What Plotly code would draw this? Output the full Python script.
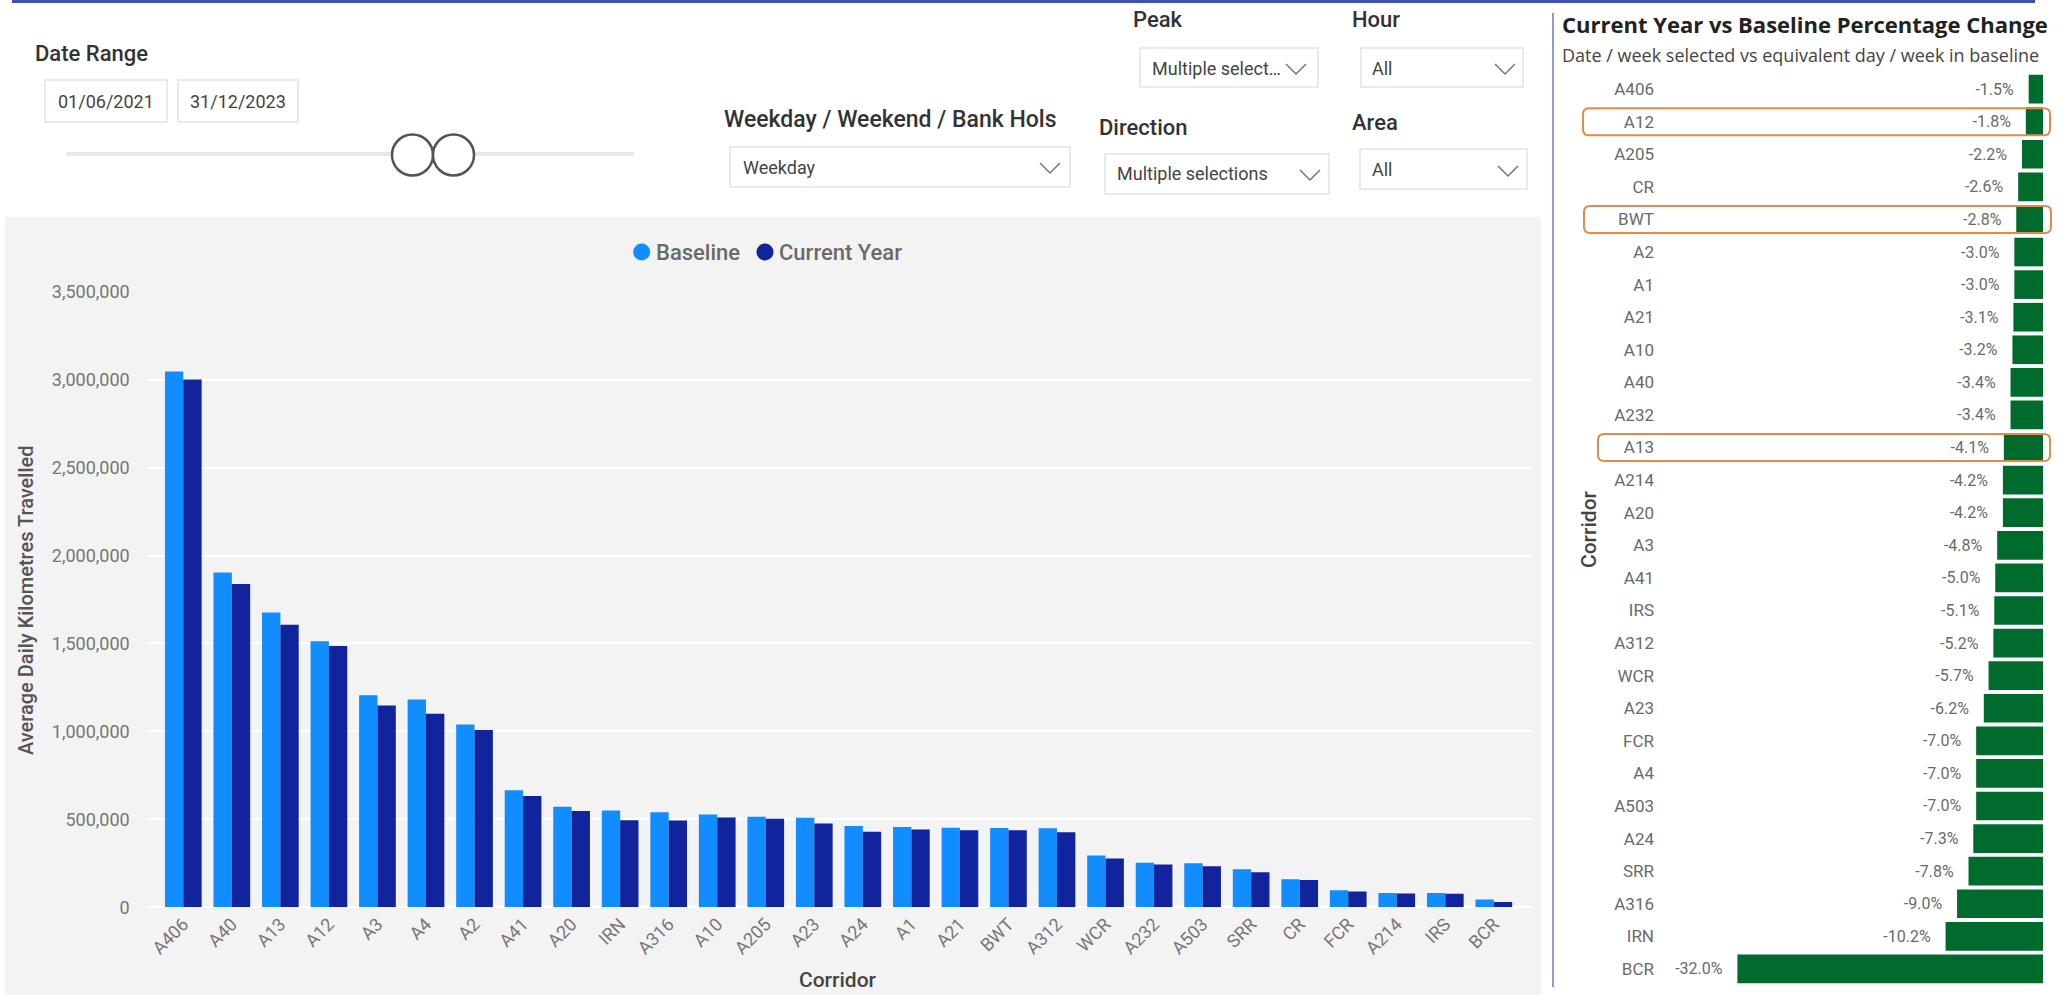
import plotly.graph_objects as go

# ---- data ----------------------------------------------------------------
corridors = ["A406", "A40", "A13", "A12", "A3", "A4", "A2", "A41", "A20", "IRN",
             "A316", "A10", "A205", "A23", "A24", "A1", "A21", "BWT", "A312", "WCR",
             "A232", "A503", "SRR", "CR", "FCR", "A214", "IRS", "BCR"]
baseline_km = [3047000, 1903000, 1676000, 1513000, 1206000, 1182000, 1040000, 666000,
               572000, 551000, 541000, 528000, 515000, 509000, 462000, 456000, 452000,
               451000, 449000, 295000, 253000, 250000, 216000, 159000, 97000, 81000,
               81000, 44000]
current_km = [3001000, 1838000, 1607000, 1486000, 1148000, 1100000, 1008000, 633000,
              548000, 495000, 493000, 511000, 504000, 477000, 429000, 442000, 438000,
              438000, 426000, 278000, 244000, 233000, 199000, 155000, 90000, 78000,
              77000, 30000]

change_corridors = ["A406", "A12", "A205", "CR", "BWT", "A2", "A1", "A21", "A10", "A40",
                    "A232", "A13", "A214", "A20", "A3", "A41", "IRS", "A312", "WCR", "A23",
                    "FCR", "A4", "A503", "A24", "SRR", "A316", "IRN", "BCR"]
change_pct = [-1.5, -1.8, -2.2, -2.6, -2.8, -3.0, -3.0, -3.1, -3.2, -3.4, -3.4, -4.1,
              -4.2, -4.2, -4.8, -5.0, -5.1, -5.2, -5.7, -6.2, -7.0, -7.0, -7.0, -7.3,
              -7.8, -9.0, -10.2, -32.0]
highlighted = ["A12", "BWT", "A13"]

y_ticks = [0, 500000, 1000000, 1500000, 2000000, 2500000, 3000000, 3500000]

# ---- page geometry helpers (pixels -> paper fractions) -------------------
W, H = 2069, 995


def px(x):
    return x / W


def py(y):
    return 1 - y / H


BLUE = "#118DFF"
NAVY = "#12239E"
GREEN = "#006B2C"
LABEL_FONT = "Roboto"
TITLE_FONT = "Open Sans"

# pixel frame of the percentage change plot
CHG_TOP, CHG_BOTTOM = 72.8, 985.2

fig = go.Figure()

# Average daily km bars
fig.add_trace(go.Bar(x=corridors, y=baseline_km, name="Baseline",
                     marker=dict(color=BLUE, line=dict(width=0)),
                     xaxis="x", yaxis="y", showlegend=False))
fig.add_trace(go.Bar(x=corridors, y=current_km, name="Current Year",
                     marker=dict(color=NAVY, line=dict(width=0)),
                     xaxis="x", yaxis="y", showlegend=False))

# Percentage change bars
change_text = [f"{v:.1f}%" for v in change_pct]
fig.add_trace(go.Bar(x=change_pct, y=change_corridors, orientation="h",
                     width=0.88, marker=dict(color=GREEN, line=dict(width=0)),
                     text=change_text, texttemplate="%{text}\u00a0\u00a0\u00a0",
                     textposition="outside", cliponaxis=False,
                     textfont=dict(family=LABEL_FONT, size=16, color="#6a6a6a"),
                     xaxis="x2", yaxis="y2", showlegend=False))

shapes = []
annotations = []


def rect(x0, y0, x1, y1, fill="white", line="#e3e3e3", lw=1.5, layer="below"):
    shapes.append(dict(type="rect", xref="paper", yref="paper",
                       x0=px(x0), x1=px(x1), y0=py(y1), y1=py(y0),
                       fillcolor=fill, line=dict(color=line, width=lw), layer=layer))


def round_rect(x0, y0, x1, y1, r, color, lw):
    p = [("M", x0 + r, y0), ("L", x1 - r, y0), ("Q", x1, y0, x1, y0 + r),
         ("L", x1, y1 - r), ("Q", x1, y1, x1 - r, y1), ("L", x0 + r, y1),
         ("Q", x0, y1, x0, y1 - r), ("L", x0, y0 + r), ("Q", x0, y0, x0 + r, y0)]
    parts = []
    for seg in p:
        cmd, vals = seg[0], seg[1:]
        pts = [f"{px(vals[k])},{py(vals[k + 1])}" for k in range(0, len(vals), 2)]
        parts.append(cmd + " " + " ".join(pts))
    shapes.append(dict(type="path", xref="paper", yref="paper",
                       path=" ".join(parts) + " Z",
                       line=dict(color=color, width=lw), layer="above"))


def text(x, y, s, size=18, color="#444", xanchor="left", family=LABEL_FONT, angle=0,
         weight="normal"):
    annotations.append(dict(x=px(x), y=py(y), xref="paper", yref="paper", text=s,
                            showarrow=False, xanchor=xanchor, yanchor="middle",
                            textangle=angle,
                            font=dict(family=family, size=size, color=color,
                                      weight=weight)))


def chevron(cx, cy):
    pts = [(cx - 10, cy - 5), (cx, cy + 5), (cx + 10, cy - 5)]
    path = "M " + " L ".join(f"{px(a)},{py(b)}" for a, b in pts)
    shapes.append(dict(type="path", xref="paper", yref="paper", path=path,
                       line=dict(color="#777", width=1.5)))


def circle(cx, cy, r, fill, line, lw):
    shapes.append(dict(type="circle", xref="paper", yref="paper",
                       x0=px(cx - r), x1=px(cx + r), y0=py(cy + r), y1=py(cy - r),
                       fillcolor=fill, line=dict(color=line, width=lw), layer="above"))


# header rule and panel divider
shapes.append(dict(type="line", xref="paper", yref="paper", x0=px(12), x1=px(2035),
                   y0=py(1.5), y1=py(1.5), line=dict(color="#3f51b5", width=3)))
shapes.append(dict(type="line", xref="paper", yref="paper", x0=px(1553), x1=px(1553),
                   y0=py(13), y1=py(987), line=dict(color="#8e99d8", width=2)))

# grey background of the column chart
rect(5, 217, 1541, 995, fill="#f3f3f3", line="#f3f3f3", lw=0)

# Date range slicer
text(33, 54, "Date Range", size=22, color="#333", weight=500)
rect(45, 80, 167, 122)
rect(178, 80, 298, 122)
text(106, 101, "01/06/2021", size=18, color="#444", xanchor="center")
text(238, 101, "31/12/2023", size=18, color="#444", xanchor="center")
shapes.append(dict(type="line", xref="paper", yref="paper", x0=px(66), x1=px(634),
                   y0=py(154), y1=py(154), line=dict(color="#e8e8e8", width=4)))
circle(412.5, 155, 20.5, "white", "#555", 2.5)
circle(453.5, 155, 20.5, "white", "#555", 2.5)

# dropdown slicers
text(1131, 20, "Peak", size=22, color="#333", weight=500)
rect(1140, 48, 1318, 87)
text(1150, 68, "Multiple select…", size=18, color="#444")
chevron(1296, 69)

text(1350, 20, "Hour", size=22, color="#333", weight=500)
rect(1361, 48, 1523, 87)
text(1370, 68, "All", size=18, color="#444")
chevron(1505, 69)

text(722, 120, "Weekday / Weekend / Bank Hols", size=23, color="#333", weight=500)
rect(730, 147, 1070, 187)
text(741, 167, "Weekday", size=18, color="#444")
chevron(1050, 168)

text(1097, 127, "Direction", size=22, color="#333", weight=500)
rect(1105, 154, 1329, 194)
text(1115, 174, "Multiple selections", size=18, color="#444")
chevron(1310, 175)

text(1350, 122, "Area", size=22, color="#333", weight=500)
rect(1360, 149, 1527, 189)
text(1370, 169, "All", size=18, color="#444")
chevron(1508, 171)

# legend of the column chart
circle(641.7, 252, 8.5, BLUE, BLUE, 0)
text(654, 252, "Baseline", size=22, color="#6a6a6a", weight=500)
circle(765, 252, 8.5, NAVY, NAVY, 0)
text(777, 252, "Current Year", size=22, color="#6a6a6a", weight=500)

# axis titles
text(26, 600, "Average Daily Kilometres Travelled", size=20, color="#555",
     xanchor="center", angle=-90, weight=500)
text(838, 980, "Corridor", size=21, color="#444", xanchor="center", weight=500)

# percentage change panel headings
text(1560, 24, "<b>Current Year vs Baseline Percentage Change</b>", size=22,
     color="#222", family=TITLE_FONT)
text(1560, 55, "Date / week selected vs equivalent day / week in baseline", size=18,
     color="#444", family=TITLE_FONT)
text(1589, 529, "Corridor", size=21, color="#444", xanchor="center", angle=-90,
     weight=500)

# orange highlight frames around selected corridors
row_h = (CHG_BOTTOM - CHG_TOP) / len(change_corridors)
frame_x = {"A12": (1583, 2050), "BWT": (1584, 2051), "A13": (1598, 2050)}
for name in highlighted:
    i = change_corridors.index(name)
    cy = CHG_TOP + (i + 0.5) * row_h
    x0, x1 = frame_x[name]
    round_rect(x0, cy - 13.5, x1, cy + 13.5, 6, "#e8894a", 2)

fig.update_layout(
    width=W, height=H,
    margin=dict(l=0, r=0, t=0, b=0, pad=0, autoexpand=False),
    paper_bgcolor="white", plot_bgcolor="rgba(0,0,0,0)",
    barmode="group", bargap=0.244, bargroupgap=0,
    showlegend=False,
    font=dict(family=LABEL_FONT),
    xaxis=dict(domain=[px(146.7), px(1531.7)], range=[-0.754, 27.78],
               type="category", categoryorder="array", categoryarray=corridors,
               tickangle=-45, showgrid=False, showline=False, zeroline=False,
               ticks="", ticklabelstandoff=2, anchor="y", automargin=False,
               tickfont=dict(family=LABEL_FONT, size=18, color="#777")),
    yaxis=dict(domain=[py(907.3), py(291.7)], range=[0, 3500000],
               tickvals=y_ticks, tickformat=",", showline=False,
               gridcolor="#ffffff", gridwidth=2, zeroline=True,
               zerolinecolor="#ffffff", zerolinewidth=2, ticks="",
               ticklabelstandoff=16, anchor="x", automargin=False,
               tickfont=dict(family=LABEL_FONT, size=18, color="#777")),
    xaxis2=dict(domain=[px(1661), px(2043)], range=[-40, 0], visible=False,
                anchor="y2", showgrid=False, zeroline=False, automargin=False),
    yaxis2=dict(domain=[py(CHG_BOTTOM), py(CHG_TOP)], type="category",
                categoryorder="array", categoryarray=change_corridors,
                range=[27.5, -0.5], showgrid=False, showline=False, zeroline=False,
                ticks="", ticklabelstandoff=6, anchor="x2", automargin=False,
                tickfont=dict(family=LABEL_FONT, size=17, color="#6a6a6a")),
    shapes=shapes,
    annotations=annotations,
)

fig.write_html("out.html")
